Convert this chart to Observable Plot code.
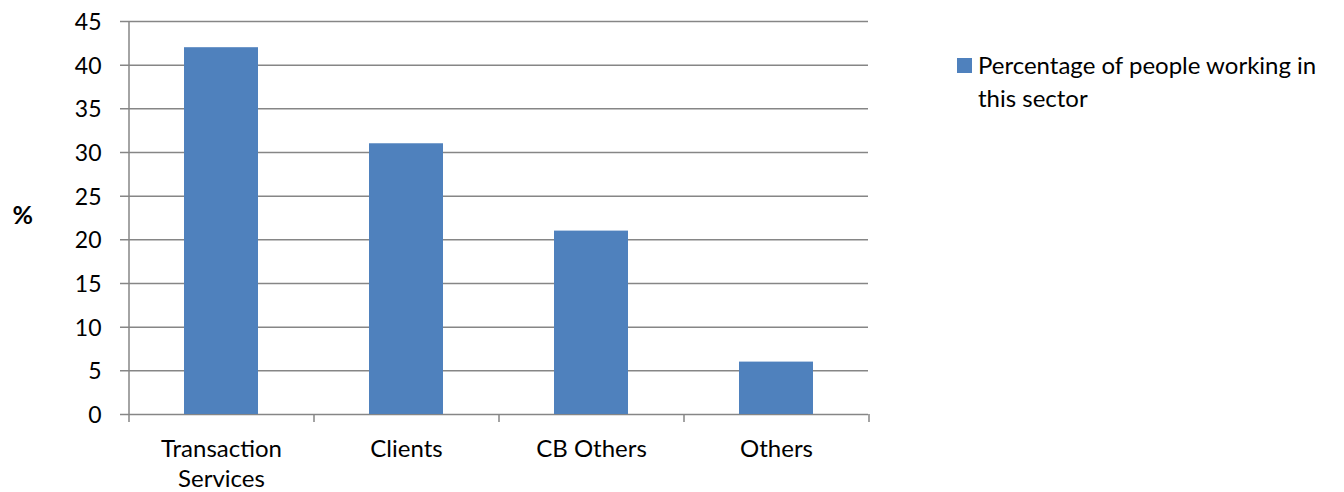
<!DOCTYPE html>
<html>
<head>
<meta charset="utf-8">
<script src="https://cdn.jsdelivr.net/npm/d3@7"></script>
<script src="https://cdn.jsdelivr.net/npm/@observablehq/plot@0.6"></script>
<style>
  body { margin: 0; background: #fff; }
  #wrap { position: relative; width: 1344px; height: 492px; font-family: Lato, "Open Sans", sans-serif; }
  #legend { position: absolute; left: 957px; top: 48px; width: 387px; font-size: 24px; line-height: 33px; color: #000; }
  #legend .sw { position: absolute; left: 0; top: 10px; width: 15px; height: 15px; background: #4F81BD; }
  #legend .tx { margin-left: 21px; white-space: nowrap; }
</style>
</head>
<body>
<div id="wrap">
  <div id="chart"></div>
  <div id="legend"><span class="sw"></span><div class="tx">Percentage of people working in<br>this sector</div></div>
</div>
<script>
const categories = ["Transaction Services", "Clients", "CB Others", "Others"];
const values = [42, 31, 21, 6];
const yTicks = [0, 5, 10, 15, 20, 25, 30, 35, 40, 45];
const yLabel = "%";

const data = categories.map((c, i) => ({category: c, value: values[i]}));
const grid = "#868686";
const W = 1344, H = 492, mL = 128, mR = 476, mT = 21, mB = 78;
const step = (W - mL - mR) / categories.length;

const chart = Plot.plot({
  width: W,
  height: H,
  marginLeft: mL,
  marginRight: mR,
  marginTop: mT,
  marginBottom: mB,
  style: {fontFamily: "Lato, 'Open Sans', sans-serif", fontSize: "24px", color: "#000", background: "#fff"},
  x: {domain: categories, paddingInner: 0.6, paddingOuter: 0.3, axis: null},
  y: {domain: [0, 45], axis: null},
  marks: [
    Plot.ruleY(yTicks, {stroke: grid, strokeWidth: 1.5, insetLeft: -8}),
    Plot.barY(data, {x: "category", y: "value", fill: "#4F81BD"}),
    Plot.ruleX([categories[0]], {y1: 45, y2: 0, dx: -step / 2, stroke: grid, strokeWidth: 1.5, insetBottom: -8}),
    Plot.ruleX(categories.slice(1), {y1: 0, y2: 0, dx: -step / 2, stroke: grid, strokeWidth: 1.5, insetBottom: -8}),
    Plot.ruleX([categories[categories.length - 1]], {y1: 0, y2: 0, dx: step / 2, stroke: grid, strokeWidth: 1.5, insetBottom: -8}),
    Plot.text(yTicks, {y: d => d, frameAnchor: "left", textAnchor: "end", dx: -27, dy: 1, text: d => String(d), fontSize: 23, fill: "#000"}),
    Plot.text(data, {x: "category", y: 0, text: d => d.category.replace("Transaction ", "Transaction\n"), lineAnchor: "top", dy: 21, lineHeight: 1.25, fontSize: 24, fill: "#000"}),
    Plot.text([yLabel], {frameAnchor: "left", dx: -116, dy: -2, text: d => d, fontSize: 25, fontWeight: "bold", fill: "#000"})
  ]
});
document.getElementById("chart").appendChild(chart);
</script>
</body>
</html>
